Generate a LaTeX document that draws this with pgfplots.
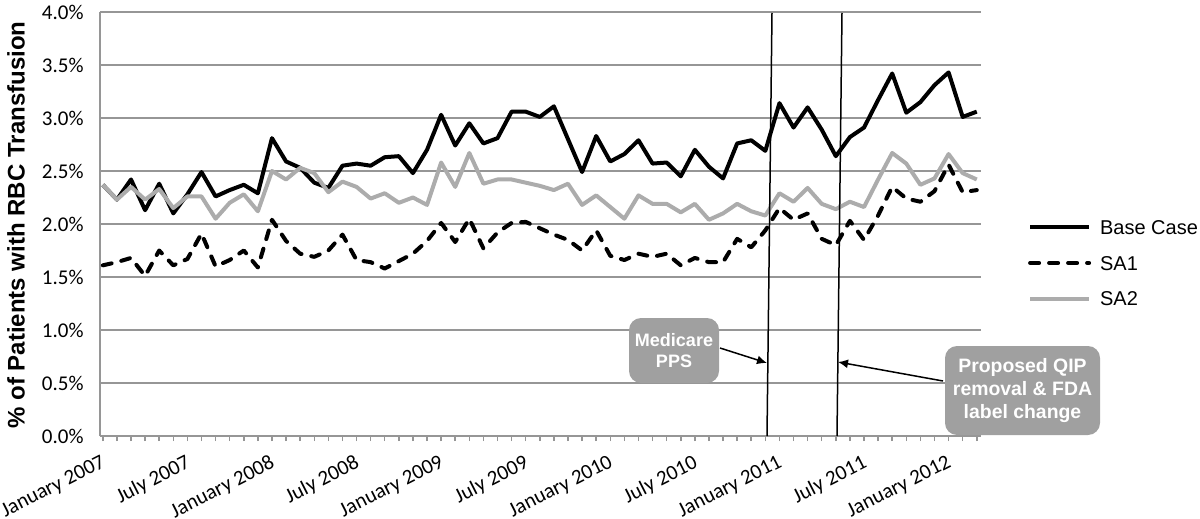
\documentclass[border=0pt]{standalone}
\usepackage{fontspec}
\setmainfont{Liberation Sans}
\newfontfamily\carlito{Carlito}
\usepackage{pgfplots}
\usepackage{pgfplotstable}
\pgfplotsset{compat=1.18}
\usetikzlibrary{arrows.meta}
\definecolor{gridgray}{RGB}{150,150,150}
\definecolor{sagray}{RGB}{172,172,172}
\definecolor{boxgray}{RGB}{160,160,160}

\pgfplotstableread{
i base sa1 sa2
0 2.37 1.61 2.37
1 2.23 1.64 2.23
2 2.42 1.68 2.35
3 2.13 1.51 2.23
4 2.38 1.75 2.33
5 2.10 1.61 2.15
6 2.28 1.67 2.26
7 2.49 1.91 2.26
8 2.26 1.60 2.05
9 2.32 1.66 2.20
10 2.37 1.75 2.28
11 2.29 1.59 2.12
12 2.81 2.04 2.50
13 2.59 1.84 2.42
14 2.53 1.72 2.53
15 2.39 1.69 2.48
16 2.34 1.75 2.30
17 2.55 1.90 2.40
18 2.57 1.66 2.35
19 2.55 1.64 2.24
20 2.63 1.58 2.29
21 2.64 1.65 2.20
22 2.48 1.72 2.25
23 2.70 1.84 2.18
24 3.03 2.01 2.58
25 2.74 1.83 2.35
26 2.95 2.05 2.67
27 2.76 1.77 2.38
28 2.81 1.92 2.42
29 3.06 2.01 2.42
30 3.06 2.02 2.39
31 3.01 1.96 2.36
32 3.11 1.90 2.32
33 2.80 1.85 2.38
34 2.49 1.75 2.18
35 2.83 1.94 2.27
36 2.59 1.70 2.16
37 2.66 1.66 2.05
38 2.79 1.72 2.27
39 2.57 1.69 2.19
40 2.58 1.72 2.19
41 2.45 1.61 2.11
42 2.70 1.68 2.19
43 2.54 1.64 2.04
44 2.43 1.64 2.10
45 2.76 1.86 2.19
46 2.79 1.78 2.12
47 2.69 1.94 2.08
48 3.14 2.15 2.29
49 2.91 2.04 2.21
50 3.10 2.10 2.34
51 2.89 1.86 2.19
52 2.64 1.80 2.14
53 2.82 2.03 2.21
54 2.91 1.85 2.16
55 3.17 2.08 2.42
56 3.42 2.35 2.67
57 3.05 2.24 2.57
58 3.15 2.21 2.37
59 3.31 2.31 2.43
60 3.43 2.56 2.66
61 3.01 2.30 2.48
62 3.06 2.32 2.42
}\datatable

\begin{document}
\begin{tikzpicture}
\begin{axis}[
  at={(50pt,-218pt)}, anchor=south west,
  scale only axis, width=440.5pt, height=212pt,
  xmin=-0.2, xmax=62.3, ymin=0, ymax=4,
  clip=false,
  axis x line*=bottom, axis y line*=left,
  axis line style={gridgray, line width=0.75pt, -},
  ymajorgrids, grid style={gridgray, line width=0.75pt},
  ytick={0,0.5,1,1.5,2,2.5,3,3.5,4},
  /pgf/number format/assume math mode=true,
  yticklabel={\pgfmathprintnumber[fixed,fixed zerofill,precision=1]{\tick}\%},
  yticklabel style={font=\carlito\fontsize{10.5}{12}\selectfont, anchor=east, inner sep=0pt, xshift=-5.5pt},
  ytick style={draw=none},
  xtick={0,6,...,60},
  xticklabels={January 2007,July 2007,January 2008,July 2008,January 2009,July 2009,January 2010,July 2010,January 2011,July 2011,January 2012},
  minor xtick={0,1,...,62},
  tick align=outside,
  major tick length=2.5pt, minor tick length=2.5pt,
  xtick style={gridgray, line width=0.75pt},
  minor tick style={gridgray, line width=0.75pt},
  xticklabel style={font=\carlito\fontsize{10.5}{12}\selectfont, rotate=27, anchor=north east, inner sep=0pt, xshift=-4pt, yshift=-5pt},
  legend cell align=left,
  legend image code/.code={\draw[#1] (0pt,0pt) -- (29.5pt,0pt);},
  legend style={at={(axis description cs:1.053,0.408)}, anchor=west, draw=none, fill=none, inner sep=0pt,
    font=\fontsize{10}{12}\selectfont, row sep=10.5pt,
    nodes={inner sep=0pt, text height=7.3pt, text depth=0pt},
    /tikz/every odd column/.append style={column sep=4.5pt}},
]
\addplot[black, line width=2pt, line join=round] table[x=i,y=base]{\datatable};
\addlegendentry{Base Case}
\addplot[black, line width=2pt, line join=round, line cap=round, dash pattern=on 4.5pt off 5pt] table[x=i,y=sa1]{\datatable};
\addlegendentry{SA1}
\addplot[sagray, line width=2pt, line join=round] table[x=i,y=sa2]{\datatable};
\addlegendentry{SA2}
\end{axis}

\node[rotate=90, font=\bfseries\fontsize{12}{14}\selectfont] at (8pt,-112.5pt) {\% of Patients with RBC Transfusion};

\draw[black, line width=0.75pt] (386pt,-6.5pt) -- (383.5pt,-218pt);
\draw[black, line width=0.75pt] (421pt,-6.5pt) -- (418.5pt,-218pt);

\node[fill=boxgray, rounded corners=6pt, minimum width=45pt, minimum height=32.5pt, inner sep=0pt,
  text=white, align=center, font=\bfseries\fontsize{9}{10.5}\selectfont] at (337pt,-175.25pt) {Medicare\\PPS};
\node[fill=boxgray, rounded corners=6pt, minimum width=77.5pt, minimum height=44.5pt, inner sep=0pt,
  text=white, align=center, font=\bfseries\fontsize{9.7}{11.5}\selectfont] at (511.25pt,-195.25pt) {Proposed QIP\\removal \& FDA\\label change};

\draw[-{Latex[length=5pt,width=4.5pt]}, line width=0.75pt] (360pt,-174pt) -- (383.5pt,-181.5pt);
\draw[-{Latex[length=5pt,width=4.5pt]}, line width=0.75pt] (471.5pt,-190.5pt) -- (419pt,-181pt);

\pgfresetboundingbox
\path[use as bounding box] (0pt,0pt) rectangle (600pt,-259.5pt);
\end{tikzpicture}
\end{document}
